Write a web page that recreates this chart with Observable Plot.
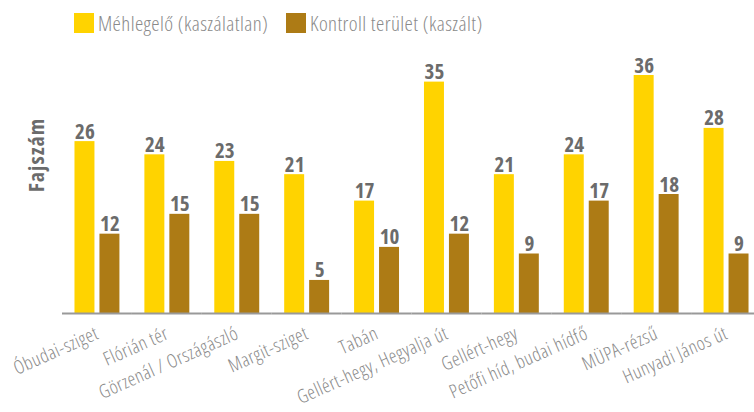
<!DOCTYPE html>
<html>
<head>
<meta charset="utf-8">
<script src="https://cdn.jsdelivr.net/npm/d3@7"></script>
<script src="https://cdn.jsdelivr.net/npm/@observablehq/plot@0.6"></script>
<style>
  body { margin: 0; background: #fff; font-family: "Open Sans", sans-serif; font-stretch: condensed; position: relative; }
  #legend { height: 45px; position: relative; font-size: 21px; letter-spacing: 0.4px; color: #8a8a8a; font-weight: 300; }
  .item { position: absolute; top: 13px; height: 20px; display: flex; align-items: center; }
  .sw { width: 20px; height: 20px; margin-right: 4px; flex: none; }
  #ylabel { position: absolute; left: 35px; top: 155px; transform: translate(-50%, -50%) rotate(-90deg);
    font-size: 22px; letter-spacing: 1px; font-weight: 700; color: #6b6b6b; white-space: nowrap; }
  svg { font-family: "Open Sans", sans-serif; font-stretch: condensed; }
  .xaxis text { letter-spacing: 0.5px; }
</style>
</head>
<body>
<div id="legend"></div>
<div id="ylabel"></div>
<div id="chart"></div>
<script>
const categories = ["Óbudai-sziget", "Flórián tér", "Görzenál / Országászló", "Margit-sziget", "Tabán",
  "Gellért-hegy, Hegyalja út", "Gellért-hegy", "Petőfi híd, budai hídfő", "MÜPA-rézsű", "Hunyadi János út"];
const seriesNames = ["Méhlegelő (kaszálatlan)", "Kontroll terület (kaszált)"];
const mehlegelo = [26, 24, 23, 21, 17, 35, 21, 24, 36, 28];
const kontroll = [12, 15, 15, 5, 10, 12, 9, 17, 18, 9];
const yLabel = "Fajszám";
const colors = ["#FFD300", "#AD7B15"];

const data = [];
categories.forEach((c, i) => {
  data.push({cat: c, series: seriesNames[0], value: mehlegelo[i]});
  data.push({cat: c, series: seriesNames[1], value: kontroll[i]});
});

const legend = document.getElementById("legend");
const lx = [74, 286];
seriesNames.forEach((s, i) => {
  const it = document.createElement("div");
  it.className = "item";
  it.style.left = lx[i] + "px";
  it.innerHTML = `<div class="sw" style="background:${colors[i]}"></div><span>${s}</span>`;
  legend.appendChild(it);
});
document.getElementById("ylabel").textContent = yLabel;

const chart = Plot.plot({
  width: 754,
  height: 367,
  marginLeft: 62,
  marginRight: -7,
  marginTop: 30,
  marginBottom: 99,
  style: {fontSize: "15px"},
  fx: {domain: categories, padding: 0, round: false, label: null, axis: null},
  x: {domain: seriesNames, paddingInner: 0.2, paddingOuter: 0.5, round: false, axis: null},
  y: {domain: [0, 36], axis: null},
  color: {domain: seriesNames, range: colors},
  marks: [
    Plot.barY(data, {fx: "cat", x: "series", y: "value", fill: "series"}),
    Plot.text(data, {fx: "cat", x: "series", y: "value", text: d => String(d.value), dy: -3,
      lineAnchor: "bottom", fontSize: 21, fontWeight: "bold", fill: "#6b6b6b"}),
    Plot.ruleY([0], {stroke: "#999", strokeWidth: 2}),
    Plot.axisFx({anchor: "bottom", domain: categories, tickSize: 0, tickRotate: -24, tickPadding: 19, label: null,
      fill: "#8a8a8a", fontSize: 19, fontWeight: 300, textAnchor: "end", className: "xaxis"})
  ]
});
document.getElementById("chart").appendChild(chart);
</script>
</body>
</html>
